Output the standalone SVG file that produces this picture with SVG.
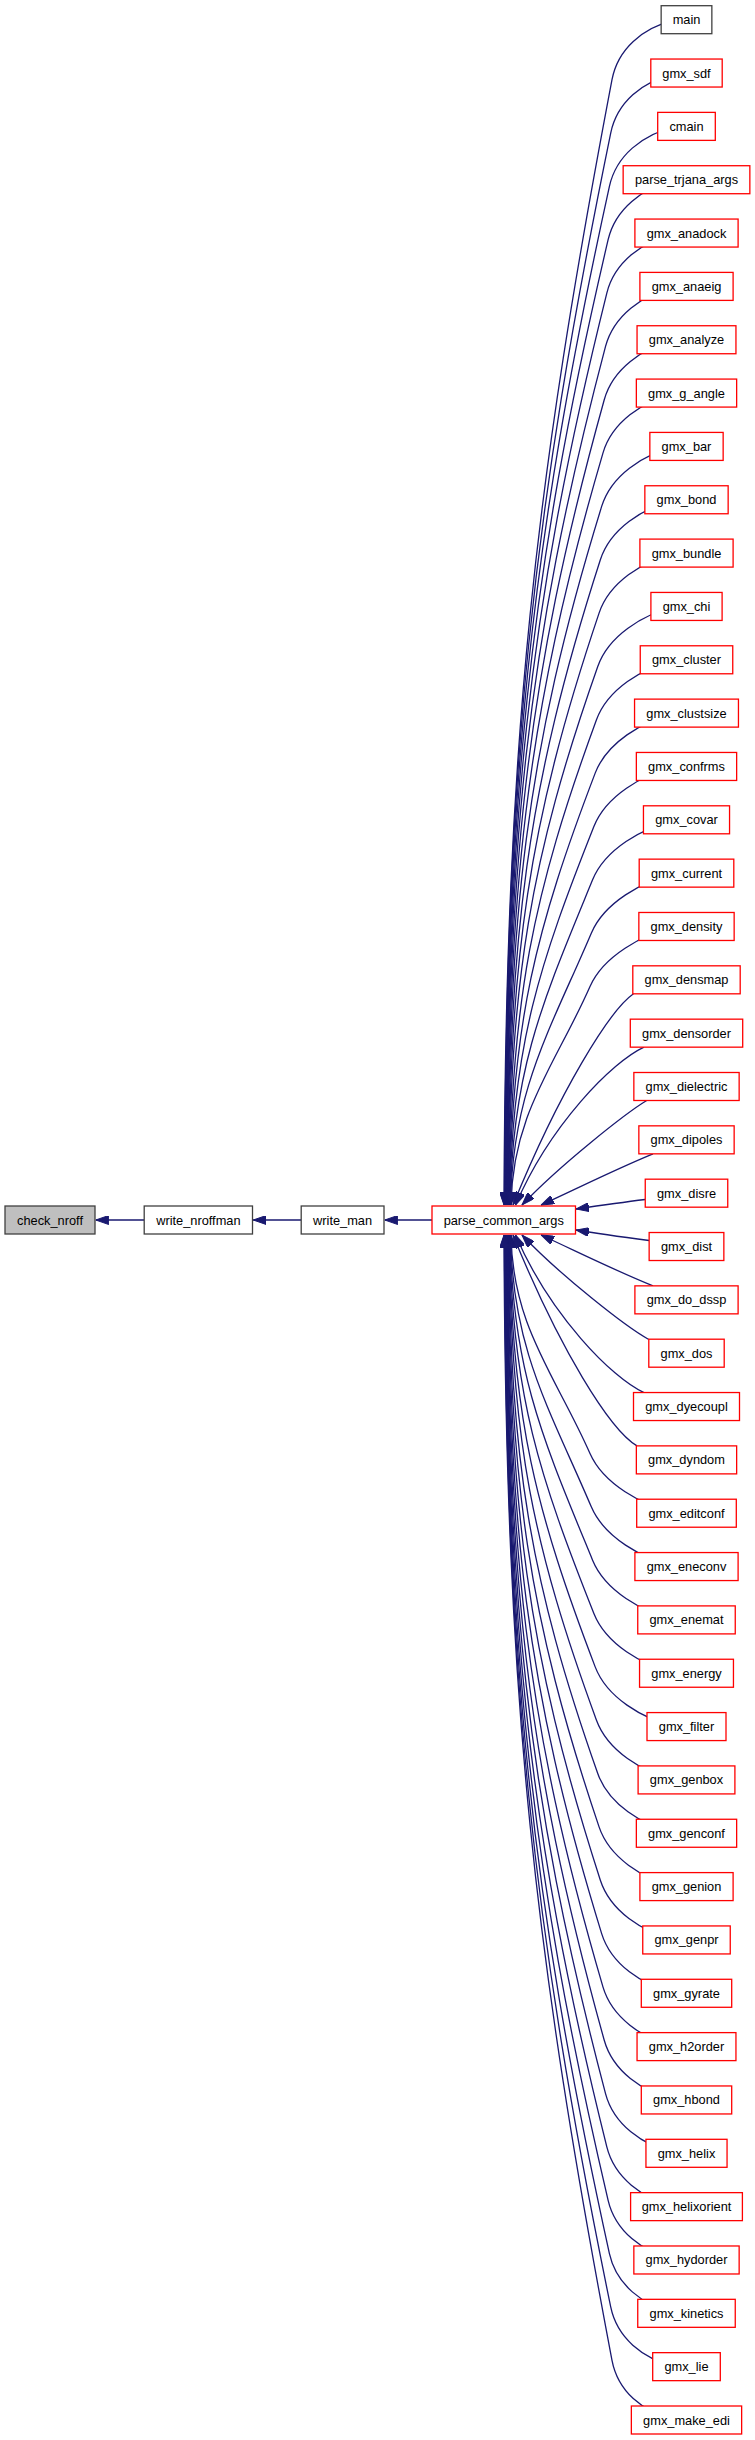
<svg xmlns="http://www.w3.org/2000/svg" width="755" height="2440" viewBox="0 0 755 2440">
<style>
.node rect{fill:#ffffff;stroke:#ff0000;stroke-width:1.3}
.node.blk rect{stroke:#404040}
.node.cur rect{fill:#bfbfbf;stroke:#404040}
.node text{font-family:"Liberation Sans",Arial,Helvetica,sans-serif;font-size:12.8px;fill:#000000;text-anchor:middle}
.edges path{fill:none;stroke:#191970;stroke-width:1.3;marker-end:url(#ah)}
</style>
<defs>
<marker id="ah" viewBox="0 -4.5 13 9" refX="13" refY="0" markerWidth="13" markerHeight="9" orient="auto" markerUnits="userSpaceOnUse">
<path d="M0,-4.5 L13,0 L0,4.5 Z" fill="#191970" stroke="#191970" stroke-width="1"/>
</marker>
</defs>
<rect x="0" y="0" width="755" height="2440" fill="#ffffff"/>
<g id="edges" class="edges">
<path d="M432,1220 L384.7,1220"/>
<path d="M301.2,1220 L253.2,1220"/>
<path d="M144.2,1220 L95.7,1220"/>
<path d="M676.5,19.7 C641.5,27.7 617.7,49.7 612,79.7 C535.9,480.3 505.5,732.4 504,1205"/>
<path d="M676.5,73.04 C641.5,81.04 616.85,103.04 610.71,133.04 C532.6,514.6 505.9,754.8 504.41,1205"/>
<path d="M676.5,126.38 C641.5,134.38 615.99,156.38 609.41,186.38 C529.85,549 506.32,777.2 504.82,1205"/>
<path d="M676.5,179.72 C641.5,187.72 615.14,209.72 608.12,239.72 C527.68,583.3 506.74,799.6 505.24,1205"/>
<path d="M676.5,233.06 C641.5,241.06 614.28,263.06 606.82,293.06 C526.05,617.71 507.15,822 505.65,1205"/>
<path d="M676.5,286.4 C641.5,294.4 613.44,316.4 605.53,346.4 C524.99,652.06 507.56,844.4 506.06,1205"/>
<path d="M676.5,339.74 C641.5,347.74 612.59,369.74 604.24,399.74 C524.49,686.41 507.97,866.8 506.47,1205"/>
<path d="M676.5,393.08 C641.5,401.08 611.73,423.08 602.94,453.08 C524.54,720.76 508.38,889.2 506.88,1205"/>
<path d="M676.5,446.42 C641.5,454.42 610.88,476.42 601.65,506.42 C525.15,755.11 508.79,911.6 507.29,1205"/>
<path d="M676.5,499.76 C641.5,507.76 610.02,529.76 600.35,559.76 C526.29,789.47 509.21,934 507.71,1205"/>
<path d="M676.5,553.1 C641.5,561.1 609.17,583.1 599.06,613.1 C528.03,823.82 509.62,956.4 508.12,1205"/>
<path d="M676.5,606.44 C641.5,614.44 608.31,636.44 597.76,666.44 C530.31,858.17 510.03,978.8 508.53,1205"/>
<path d="M676.5,659.78 C641.5,667.78 607.47,689.78 596.47,719.78 C533.16,892.52 510.44,1001.2 508.94,1205"/>
<path d="M676.5,713.12 C641.5,721.12 606.62,743.12 595.18,773.12 C536.57,926.87 510.85,1023.6 509.35,1205"/>
<path d="M676.5,766.46 C641.5,774.46 605.76,796.46 593.88,826.46 C540.53,961.22 511.26,1046 509.76,1205"/>
<path d="M676.5,819.8 C641.5,827.8 604.91,849.8 592.59,879.8 C545.06,995.57 511.68,1068.4 510.18,1205"/>
<path d="M676.5,873.14 C641.5,881.14 604.05,903.14 591.29,933.14 C550.13,1029.92 512.09,1090.8 510.59,1205"/>
<path d="M676.5,926.48 C641.5,934.48 603.2,956.48 590,986.48 C555.77,1064.27 512.5,1113.2 511,1205"/>
<path d="M633.5,993.8 C610,1010 560,1090 513,1205"/>
<path d="M644,1047.2 C612,1062 550,1125 515.5,1205"/>
<path d="M646.7,1100.5 C626,1113 560,1165 522,1205"/>
<path d="M653,1153.8 C616,1169 578,1188 541,1205"/>
<path d="M645.25,1199.5 C625,1202 600,1205.5 576,1209"/>
<path d="M649.15,1240.5 C630,1238 600,1234 576,1230"/>
<path d="M653,1285.86 C616,1271 578,1252 541,1235"/>
<path d="M648.8,1339.5 C626,1327 560,1275 522,1235"/>
<path d="M644,1392.6 C612,1378 550,1315 515.5,1235"/>
<path d="M637,1445.9 C610,1430 560,1350 513,1235"/>
<path d="M676.5,1513.52 C641.5,1505.52 603.2,1483.52 590,1453.52 C555.77,1375.73 512.5,1326.8 511,1235"/>
<path d="M676.5,1566.86 C641.5,1558.86 604.05,1536.86 591.29,1506.86 C550.13,1410.08 512.09,1349.2 510.59,1235"/>
<path d="M676.5,1620.2 C641.5,1612.2 604.91,1590.2 592.59,1560.2 C545.06,1444.43 511.68,1371.6 510.18,1235"/>
<path d="M676.5,1673.54 C641.5,1665.54 605.76,1643.54 593.88,1613.54 C540.53,1478.78 511.26,1394 509.76,1235"/>
<path d="M676.5,1726.88 C641.5,1718.88 606.62,1696.88 595.18,1666.88 C536.57,1513.13 510.85,1416.4 509.35,1235"/>
<path d="M676.5,1780.22 C641.5,1772.22 607.47,1750.22 596.47,1720.22 C533.16,1547.48 510.44,1438.8 508.94,1235"/>
<path d="M676.5,1833.56 C641.5,1825.56 608.31,1803.56 597.76,1773.56 C530.31,1581.83 510.03,1461.2 508.53,1235"/>
<path d="M676.5,1886.9 C641.5,1878.9 609.17,1856.9 599.06,1826.9 C528.03,1616.18 509.62,1483.6 508.12,1235"/>
<path d="M676.5,1940.24 C641.5,1932.24 610.02,1910.24 600.35,1880.24 C526.29,1650.53 509.21,1506 507.71,1235"/>
<path d="M676.5,1993.58 C641.5,1985.58 610.88,1963.58 601.65,1933.58 C525.15,1684.89 508.79,1528.4 507.29,1235"/>
<path d="M676.5,2046.92 C641.5,2038.92 611.73,2016.92 602.94,1986.92 C524.54,1719.24 508.38,1550.8 506.88,1235"/>
<path d="M676.5,2100.26 C641.5,2092.26 612.59,2070.26 604.24,2040.26 C524.49,1753.59 507.97,1573.2 506.47,1235"/>
<path d="M676.5,2153.6 C641.5,2145.6 613.44,2123.6 605.53,2093.6 C524.99,1787.94 507.56,1595.6 506.06,1235"/>
<path d="M676.5,2206.94 C641.5,2198.94 614.28,2176.94 606.82,2146.94 C526.05,1822.29 507.15,1618 505.65,1235"/>
<path d="M676.5,2260.28 C641.5,2252.28 615.14,2230.28 608.12,2200.28 C527.68,1856.7 506.74,1640.4 505.24,1235"/>
<path d="M676.5,2313.62 C641.5,2305.62 615.99,2283.62 609.41,2253.62 C529.85,1891 506.32,1662.8 504.82,1235"/>
<path d="M676.5,2366.96 C641.5,2358.96 616.85,2336.96 610.71,2306.96 C532.6,1925.4 505.9,1685.2 504.41,1235"/>
<path d="M676.5,2420.3 C641.5,2412.3 617.7,2390.3 612,2360.3 C535.9,1959.7 505.5,1707.6 504,1235"/>
</g>
<g id="n_check_nroff" class="node cur"><rect x="5" y="1206" width="90" height="28"/><text x="50" y="1224.5">check_nroff</text></g>
<g id="n_write_nroffman" class="node blk"><rect x="144.2" y="1206" width="108.3" height="28"/><text x="198.35" y="1224.5">write_nroffman</text></g>
<g id="n_write_man" class="node blk"><rect x="301.2" y="1206" width="82.8" height="28"/><text x="342.6" y="1224.5">write_man</text></g>
<g id="n_parse_common_args" class="node"><rect x="432" y="1206" width="143.5" height="28"/><text x="503.75" y="1224.5">parse_common_args</text></g>
<g id="n_main" class="node blk"><rect x="661.15" y="5.7" width="50.7" height="28"/><text x="686.5" y="24.2">main</text></g>
<g id="n_gmx_sdf" class="node"><rect x="650.8" y="59.04" width="71.4" height="28"/><text x="686.5" y="77.54">gmx_sdf</text></g>
<g id="n_cmain" class="node"><rect x="657.7" y="112.38" width="57.6" height="28"/><text x="686.5" y="130.88">cmain</text></g>
<g id="n_parse_trjana_args" class="node"><rect x="623.15" y="165.72" width="126.7" height="28"/><text x="686.5" y="184.22">parse_trjana_args</text></g>
<g id="n_gmx_anadock" class="node"><rect x="634.9" y="219.06" width="103.2" height="28"/><text x="686.5" y="237.56">gmx_anadock</text></g>
<g id="n_gmx_anaeig" class="node"><rect x="639.9" y="272.4" width="93.2" height="28"/><text x="686.5" y="290.9">gmx_anaeig</text></g>
<g id="n_gmx_analyze" class="node"><rect x="637.05" y="325.74" width="98.9" height="28"/><text x="686.5" y="344.24">gmx_analyze</text></g>
<g id="n_gmx_g_angle" class="node"><rect x="636.35" y="379.08" width="100.3" height="28"/><text x="686.5" y="397.58">gmx_g_angle</text></g>
<g id="n_gmx_bar" class="node"><rect x="649.85" y="432.42" width="73.3" height="28"/><text x="686.5" y="450.92">gmx_bar</text></g>
<g id="n_gmx_bond" class="node"><rect x="644.85" y="485.76" width="83.3" height="28"/><text x="686.5" y="504.26">gmx_bond</text></g>
<g id="n_gmx_bundle" class="node"><rect x="639.9" y="539.1" width="93.2" height="28"/><text x="686.5" y="557.6">gmx_bundle</text></g>
<g id="n_gmx_chi" class="node"><rect x="650.9" y="592.44" width="71.2" height="28"/><text x="686.5" y="610.94">gmx_chi</text></g>
<g id="n_gmx_cluster" class="node"><rect x="640.25" y="645.78" width="92.5" height="28"/><text x="686.5" y="664.28">gmx_cluster</text></g>
<g id="n_gmx_clustsize" class="node"><rect x="634.55" y="699.12" width="103.9" height="28"/><text x="686.5" y="717.62">gmx_clustsize</text></g>
<g id="n_gmx_confrms" class="node"><rect x="636.35" y="752.46" width="100.3" height="28"/><text x="686.5" y="770.96">gmx_confrms</text></g>
<g id="n_gmx_covar" class="node"><rect x="643.45" y="805.8" width="86.1" height="28"/><text x="686.5" y="824.3">gmx_covar</text></g>
<g id="n_gmx_current" class="node"><rect x="639.2" y="859.14" width="94.6" height="28"/><text x="686.5" y="877.64">gmx_current</text></g>
<g id="n_gmx_density" class="node"><rect x="638.85" y="912.48" width="95.3" height="28"/><text x="686.5" y="930.98">gmx_density</text></g>
<g id="n_gmx_densmap" class="node"><rect x="632.8" y="965.82" width="107.4" height="28"/><text x="686.5" y="984.32">gmx_densmap</text></g>
<g id="n_gmx_densorder" class="node"><rect x="630.3" y="1019.16" width="112.4" height="28"/><text x="686.5" y="1037.66">gmx_densorder</text></g>
<g id="n_gmx_dielectric" class="node"><rect x="633.85" y="1072.5" width="105.3" height="28"/><text x="686.5" y="1091">gmx_dielectric</text></g>
<g id="n_gmx_dipoles" class="node"><rect x="638.85" y="1125.84" width="95.3" height="28"/><text x="686.5" y="1144.34">gmx_dipoles</text></g>
<g id="n_gmx_disre" class="node"><rect x="645.25" y="1179.18" width="82.5" height="28"/><text x="686.5" y="1197.68">gmx_disre</text></g>
<g id="n_gmx_dist" class="node"><rect x="649.15" y="1232.52" width="74.7" height="28"/><text x="686.5" y="1251.02">gmx_dist</text></g>
<g id="n_gmx_do_dssp" class="node"><rect x="634.9" y="1285.86" width="103.2" height="28"/><text x="686.5" y="1304.36">gmx_do_dssp</text></g>
<g id="n_gmx_dos" class="node"><rect x="648.8" y="1339.2" width="75.4" height="28"/><text x="686.5" y="1357.7">gmx_dos</text></g>
<g id="n_gmx_dyecoupl" class="node"><rect x="633.5" y="1392.54" width="106" height="28"/><text x="686.5" y="1411.04">gmx_dyecoupl</text></g>
<g id="n_gmx_dyndom" class="node"><rect x="636.35" y="1445.88" width="100.3" height="28"/><text x="686.5" y="1464.38">gmx_dyndom</text></g>
<g id="n_gmx_editconf" class="node"><rect x="636.7" y="1499.22" width="99.6" height="28"/><text x="686.5" y="1517.72">gmx_editconf</text></g>
<g id="n_gmx_eneconv" class="node"><rect x="634.9" y="1552.56" width="103.2" height="28"/><text x="686.5" y="1571.06">gmx_eneconv</text></g>
<g id="n_gmx_enemat" class="node"><rect x="637.75" y="1605.9" width="97.5" height="28"/><text x="686.5" y="1624.4">gmx_enemat</text></g>
<g id="n_gmx_energy" class="node"><rect x="639.55" y="1659.24" width="93.9" height="28"/><text x="686.5" y="1677.74">gmx_energy</text></g>
<g id="n_gmx_filter" class="node"><rect x="647" y="1712.58" width="79" height="28"/><text x="686.5" y="1731.08">gmx_filter</text></g>
<g id="n_gmx_genbox" class="node"><rect x="638.1" y="1765.92" width="96.8" height="28"/><text x="686.5" y="1784.42">gmx_genbox</text></g>
<g id="n_gmx_genconf" class="node"><rect x="636.35" y="1819.26" width="100.3" height="28"/><text x="686.5" y="1837.76">gmx_genconf</text></g>
<g id="n_gmx_genion" class="node"><rect x="639.9" y="1872.6" width="93.2" height="28"/><text x="686.5" y="1891.1">gmx_genion</text></g>
<g id="n_gmx_genpr" class="node"><rect x="642.75" y="1925.94" width="87.5" height="28"/><text x="686.5" y="1944.44">gmx_genpr</text></g>
<g id="n_gmx_gyrate" class="node"><rect x="641.3" y="1979.28" width="90.4" height="28"/><text x="686.5" y="1997.78">gmx_gyrate</text></g>
<g id="n_gmx_h2order" class="node"><rect x="637.05" y="2032.62" width="98.9" height="28"/><text x="686.5" y="2051.12">gmx_h2order</text></g>
<g id="n_gmx_hbond" class="node"><rect x="641.3" y="2085.96" width="90.4" height="28"/><text x="686.5" y="2104.46">gmx_hbond</text></g>
<g id="n_gmx_helix" class="node"><rect x="645.95" y="2139.3" width="81.1" height="28"/><text x="686.5" y="2157.8">gmx_helix</text></g>
<g id="n_gmx_helixorient" class="node"><rect x="630.6" y="2192.64" width="111.8" height="28"/><text x="686.5" y="2211.14">gmx_helixorient</text></g>
<g id="n_gmx_hydorder" class="node"><rect x="633.85" y="2245.98" width="105.3" height="28"/><text x="686.5" y="2264.48">gmx_hydorder</text></g>
<g id="n_gmx_kinetics" class="node"><rect x="637.75" y="2299.32" width="97.5" height="28"/><text x="686.5" y="2317.82">gmx_kinetics</text></g>
<g id="n_gmx_lie" class="node"><rect x="652.7" y="2352.66" width="67.6" height="28"/><text x="686.5" y="2371.16">gmx_lie</text></g>
<g id="n_gmx_make_edi" class="node"><rect x="631.35" y="2406" width="110.3" height="28"/><text x="686.5" y="2424.5">gmx_make_edi</text></g>
</svg>
